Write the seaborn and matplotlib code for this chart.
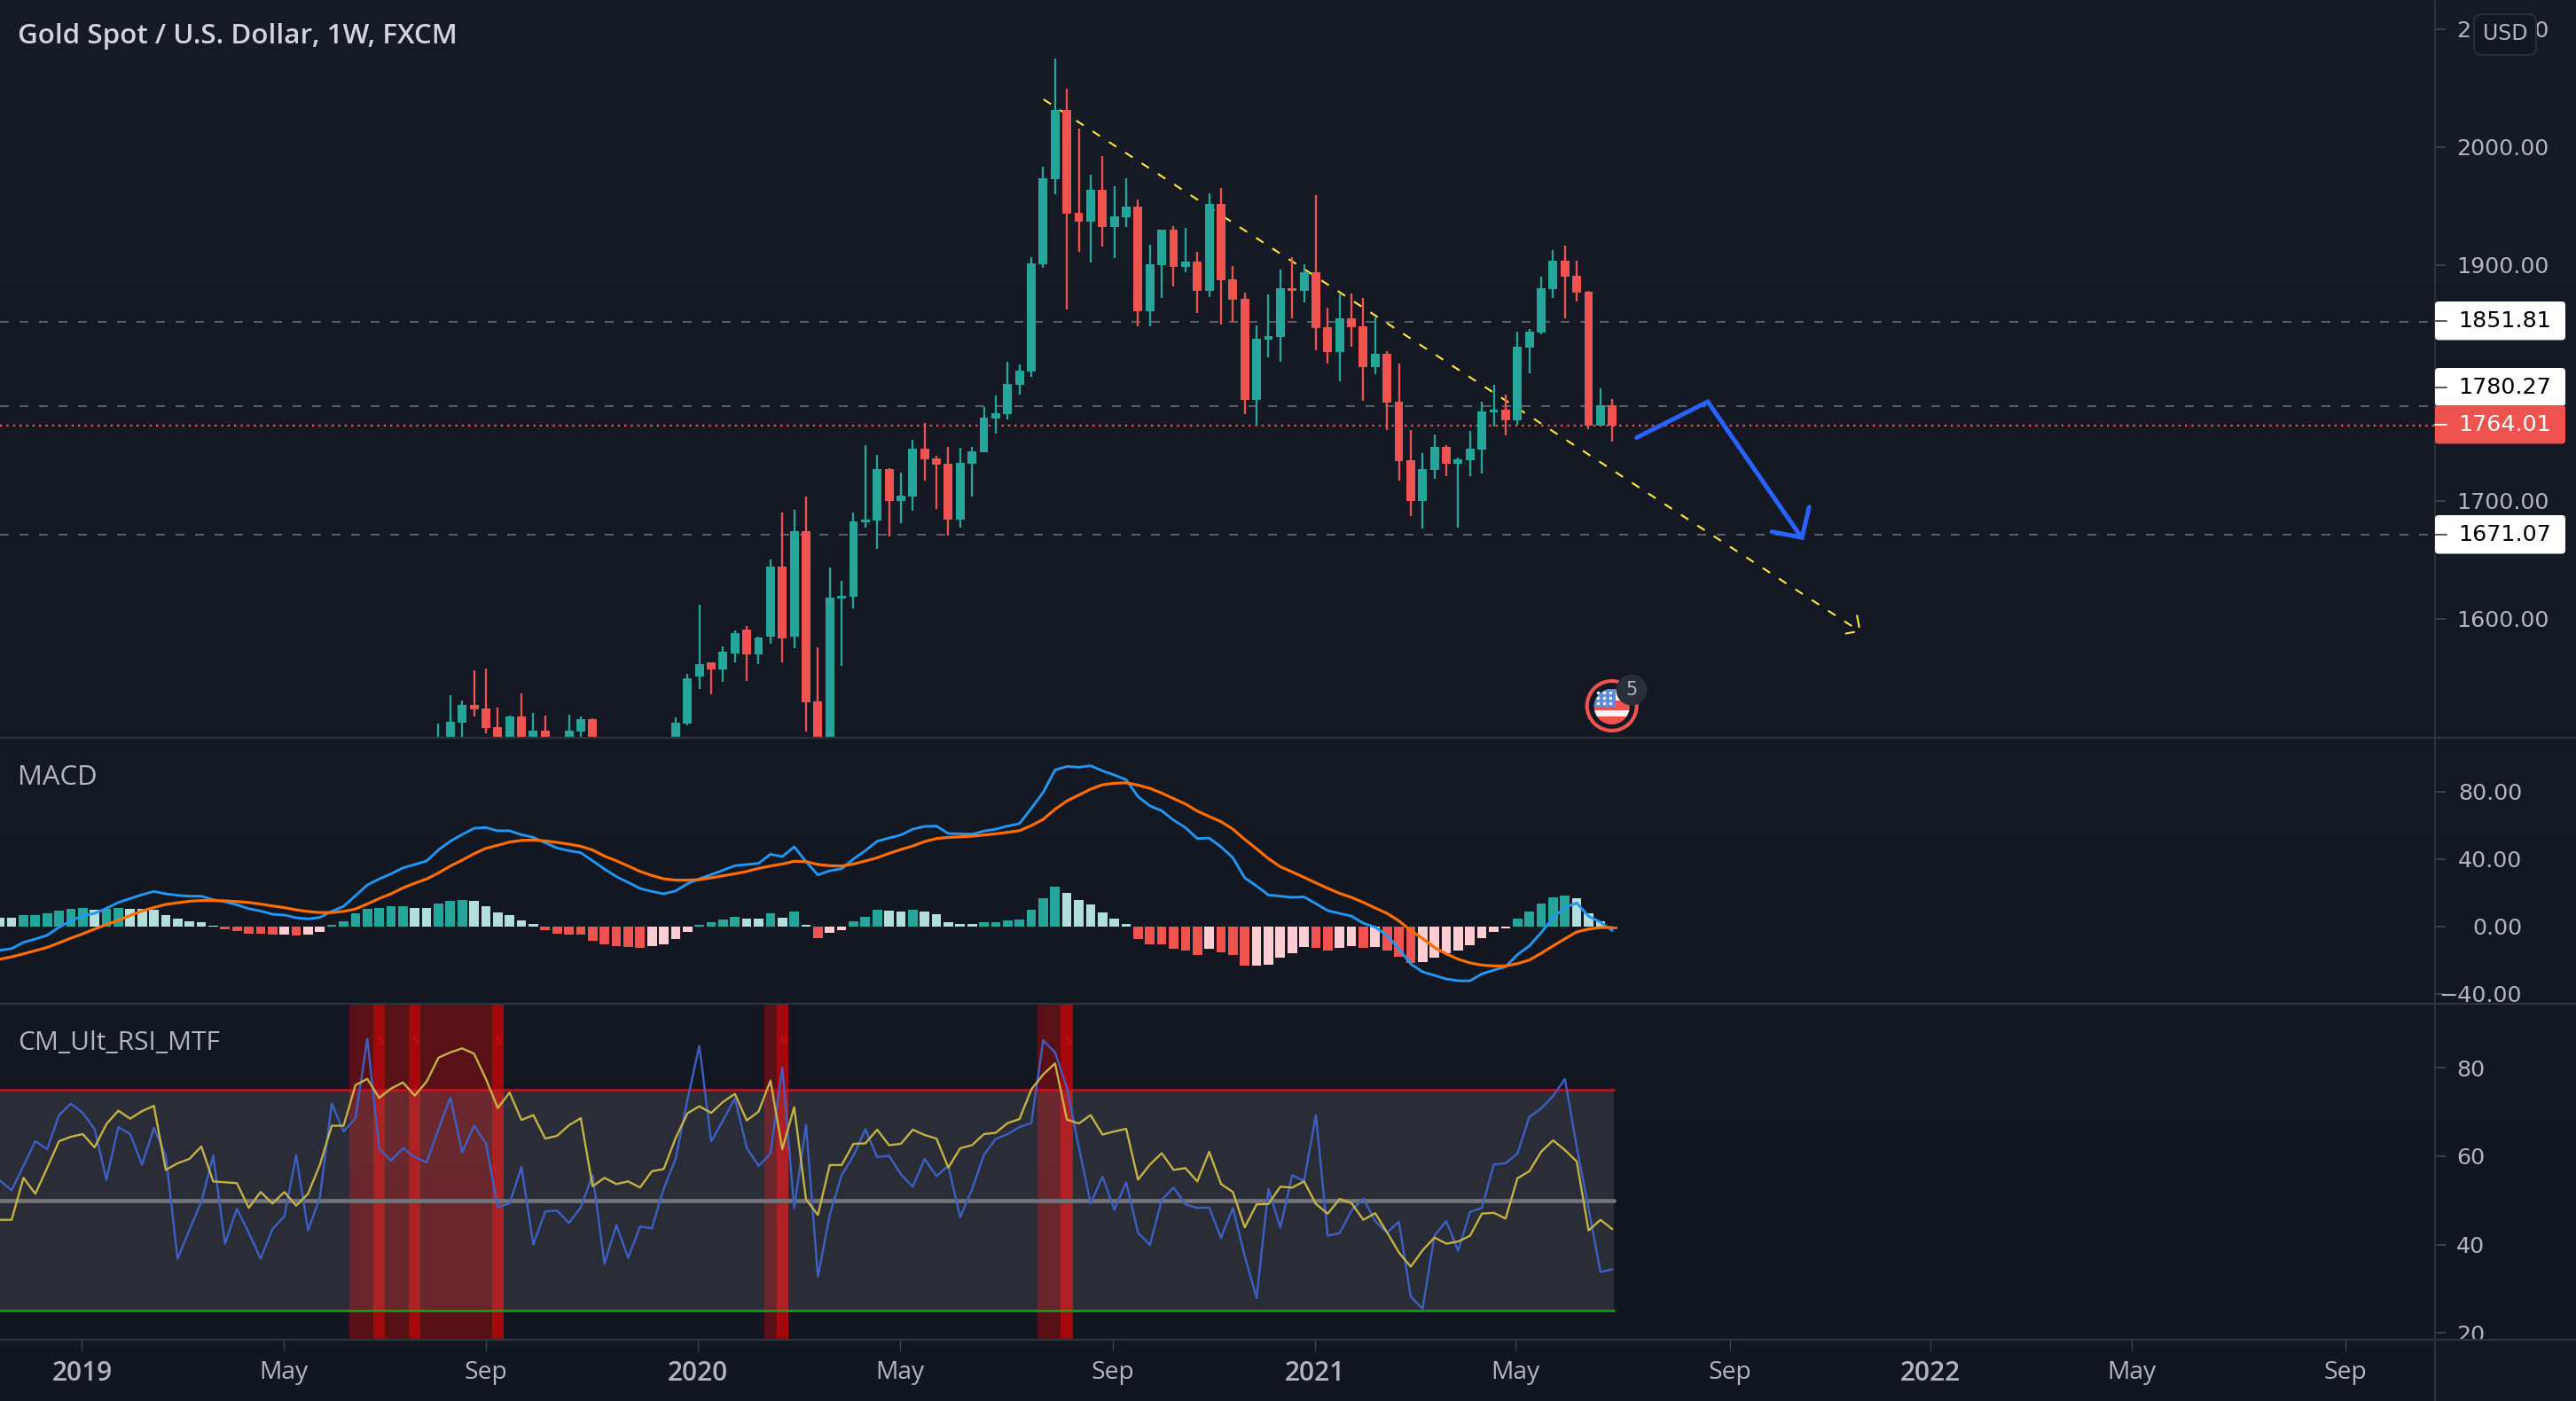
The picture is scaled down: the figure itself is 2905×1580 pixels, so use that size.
import numpy as np
import matplotlib
matplotlib.use("Agg")
import matplotlib.pyplot as plt
from matplotlib.patches import FancyBboxPatch, Circle, Rectangle
import seaborn as sns

# ---------- data ----------
candle_first = 37
opens = [1485,1495,1511.7,1526.7,1523.7,1507.9,1495,1516.9,1495,1504.9,1480,1495,1504.2,1514.7,
 1495,1478,1462,1476,1480,1488,1495,1510.9,1550.8,1562.8,1556.8,1570.4,1590.7,1569.6,1584.6,1644.1,
 1584.6,1674.1,1529.7,1490,1617,1618.5,1681.7,1683.2,1726.8,1699.7,1703.5,1744.1,1735.8,1731.3,1683.9,
 1731.3,1741.1,1769.7,1773.5,1798.3,1809.6,1900.6,1972.8,2031.4,1944.2,1936.7,1963.8,1932.2,1940.4,1949.5,
 1860.7,1899.8,1929.9,1898.3,1902.8,1878,1951.7,1887.8,1871.2,1785.5,1836.7,1838.9,1880.3,1878,1893.8,
 1847.2,1826.1,1854.7,1848,1813.4,1824.6,1784,1734.4,1699.8,1726.1,1745.7,1731.4,1734.4,1743.4,1775,
 1777.2,1768.2,1829.9,1842.7,1879.5,1903.6,1890.8,1877.3,1763.7,1781]
highs = [1510.9,1535.5,1530.5,1556,1557.6,1524.5,1517.7,1536.5,1520,1517.7,1492,1518.5,1516.9,1515.4,
 1498,1488,1480,1490,1492,1498,1516.2,1553.6,1611.7,1562.8,1576.4,1589.9,1593.7,1584.6,1650.1,1689.9,
 1692.2,1703.5,1575.6,1643.3,1632,1689.9,1747.1,1738.8,1727.5,1723.8,1751.6,1765.9,1738,1745.6,1744.8,
 1745.6,1779.5,1789.3,1817.8,1815.6,1906.6,1983.3,2075.1,2049.5,2015.6,1976.5,1992.3,1966.8,1973.5,1955.5,
 1917.1,1929.9,1932.9,1931.4,1911.1,1960.7,1965.3,1899.1,1876.5,1848.7,1875,1896,1906.6,1900.6,1959.3,
 1863.7,1875,1875.8,1872,1855.5,1826.9,1816.4,1760,1740.4,1756.2,1747.2,1736.6,1759.2,1784,1798.3,
 1790,1843.4,1845.7,1890,1912.6,1916.4,1903.6,1878,1795.3,1786.3]
lows = [1475,1488,1498,1517,1502.7,1490,1490,1490,1488,1490,1475,1488,1495,1490,
 1470,1465,1455,1470,1472,1478,1490,1509.4,1540.3,1535.8,1546.3,1562.8,1547,1561.3,1578.6,1562.8,
 1574.9,1504.2,1480,1485,1559.8,1608.7,1677.2,1659.1,1669.6,1680.9,1691.4,1717,1692.9,1670.4,1677.2,
 1703.5,1741,1756.9,1768.9,1790,1805.1,1897.6,1960,1862.2,1911.1,1902.1,1915.6,1905.8,1932.2,1847.9,
 1847.9,1872,1881.8,1893.8,1859.2,1872.7,1849.4,1851.7,1773.5,1764.5,1821.6,1817.9,1854.7,1868.3,1827.6,
 1816.4,1801.3,1830.6,1784.8,1807.3,1760,1717.1,1687,1676.5,1718.6,1720.8,1677.2,1720.8,1723.1,1763,
 1755.4,1764.5,1808.1,1841.2,1872,1854.7,1869,1760.7,1763.7,1750.2]
closes = [1495,1512.4,1526.7,1523,1507.2,1495,1516.9,1497,1504.9,1495,1488,1504.9,1514.7,1495,
 1478,1468,1476,1480,1488,1495,1511.7,1549.3,1561.3,1556.8,1571.9,1587.6,1569.6,1583.9,1644.1,1583.1,
 1674.1,1529,1490,1617.7,1619.2,1682.4,1683.9,1726.8,1699.7,1704.2,1744.1,1735.1,1730.5,1683.9,1732,
 1741.8,1770.5,1774.2,1799,1810.3,1901.3,1973.5,2031.4,1943.4,1936.7,1963.8,1932.2,1941.2,1949.5,1860.7,
 1900.6,1929.9,1898.3,1902.8,1878,1951.7,1887,1870.5,1785.5,1837.4,1839.7,1880.3,1878,1893.8,1846.4,
 1826.1,1854.7,1847.2,1813.4,1824.6,1783.3,1733.6,1699.8,1726.9,1745.7,1731.4,1735.1,1744.2,1775.7,1777.2,
 1768.2,1830.6,1843.4,1880.3,1903.6,1890,1876.5,1763.7,1781,1763.7]

macd_hist = [5.1,5.1,6.7,6.7,7.7,9.3,10.4,10.9,9.8,10.4,10.9,10.4,10.4,9.8,6.7,4.6,3.0,2.5,0.5,
 -1.6,-2.8,-4.4,-4.4,-4.9,-4.9,-5.4,-4.9,-3.3,0.9,3.0,7.7,10.4,10.9,11.9,11.9,10.9,10.9,13.5,15.1,15.6,15.1,
 11.9,8.2,6.7,3.5,1.4,-2.3,-4.4,-4.9,-4.9,-8.6,-10.7,-11.8,-12.3,-12.8,-11.8,-10.7,-7.5,-3.3,0.9,2.5,4.0,5.6,
 4.6,4.6,7.7,5.1,8.8,0.9,-7.0,-3.9,-2.3,3.0,5.6,9.8,9.3,8.8,9.8,8.8,7.2,2.5,1.4,1.4,2.5,2.5,3.5,4.0,9.8,16.7,
 23.5,19.8,15.6,13.0,8.2,4.6,1.4,-7.5,-10.7,-10.7,-13.3,-14.4,-17.0,-13.3,-15.4,-17.0,-23.3,-23.3,-22.8,-18.6,
 -16.0,-12.3,-12.8,-14.4,-12.8,-11.8,-12.8,-12.3,-14.4,-18.1,-21.8,-21.2,-18.6,-16.0,-14.4,-11.2,-7.0,-3.3,-1.2,
 4.6,8.8,13.5,17.2,18.2,16.7,7.7,3.0,-1.6]
hist_codes = list("gg"+"GGGGGG"+"g"+"GG"+"g"*8+"R"*5+"r"+"R"+"rr"+"G"*7+"gg"+"GGG"+"g"*6+"R"*9+"rrrr"+"GGGG"+"gg"+"G"+"g"+"G"+"g"+"R"+"rr"+"GGG"+"gg"+"G"+"g"*5+"G"*7+"g"*6+"R"*6+"r"+"RRR"+"r"*5+"RR"+"rr"+"R"+"r"+"RRR"+"r"*8+"G"*5+"ggg"+"R")
macd_line = [-14.2,-13.2,-9.5,-7.5,-5.3,-0.5,3.3,6.3,7.7,10.7,14.2,16.5,18.8,20.7,19.3,18.4,17.9,17.9,15.8,14.6,
 12.8,10.5,9.1,7.2,6.7,5.1,4.4,5.3,8.9,11.9,18.2,24.6,28.1,31.2,34.7,36.7,38.8,45.4,50.5,54.5,58.2,58.6,56.7,56.7,
 54.4,52.8,49.6,46.5,44.9,43.7,38.9,34,29.5,26.1,22.5,20.7,19.3,21,25.3,28.2,30.7,33.3,36,36.7,37.4,42.8,41.4,47.2,
 38.4,30.5,33,34.2,40,44.9,50.5,52.4,54.2,57.7,59.3,59.5,55.1,54.9,54.7,56.5,57.7,59.5,61,70,79.5,92.8,94.9,94.4,95.3,
 92.3,89.8,87,77,71.5,68.6,63,58.6,52.1,52.4,47.2,40.7,28.8,23.9,18.6,17.9,17.2,17.5,13.5,9.3,7.7,6.1,1.9,-0.5,-5.4,
 -13.3,-22.3,-27,-29.1,-31.2,-32.3,-32.3,-28.2,-26,-23.9,-16.8,-11.6,-3.7,5.1,11.2,13.9,6,2.5,-2.5]
signal_line = [-19.5,-18.1,-16.3,-14.4,-12.5,-9.8,-7,-4.4,-1.6,1.1,3.5,6.5,9.1,11.2,13,14,14.9,15.3,15.3,15.1,14.7,
 14.2,13.2,12.1,11.1,9.8,8.8,8.2,8.2,8.9,10.3,13.3,16.5,19.3,22.8,25.6,28.1,31.7,35.8,39.3,43.1,46.3,48.1,50,51,51.2,
 50.7,49.8,48.8,47.5,45.3,41.7,38.9,35.8,32.6,30.2,28.2,27.4,27.4,27.7,28.8,30,31.2,32.6,34.4,35.8,37,38.6,38.4,36.7,
 36,35.8,37,38.8,40.7,43.3,45.6,47.7,50.3,52.1,52.8,53.1,53.5,54.2,54.9,55.8,56.8,59.8,63.5,69.5,74.4,77.9,81.4,84,84.9,
 85.2,83.8,81.9,79.1,75.8,72.6,68.4,65.2,62.1,57.7,51.6,46,40.2,35.4,32.3,29.1,25.8,22.6,19.6,17.2,14.2,10.9,7.7,3.3,
 -2.5,-7.2,-12.5,-16.3,-19.5,-21.7,-23,-23.5,-23.5,-22.1,-20,-16,-11.6,-7.4,-3.3,-1.6,-0.7,-0.7]

rsi_fast = [54.5,52.3,57.8,63.4,61.6,69.3,71.9,69.8,66.1,54.7,66.6,65,58.1,66.4,60.1,36.8,43.4,49.7,60.1,40.2,48.1,
 42.7,36.8,43.5,46.4,60.2,43.2,50.7,71.9,65.6,68.6,86.6,61.8,59,61.8,59.8,58.6,66.1,73.3,60.9,66.9,62.9,48.5,49.3,57.6,
 40,47.5,47.7,44.9,48.4,55.7,35.7,44.4,37,44.1,43.7,52.7,59.4,72.8,85,63.3,68.1,73.1,61.9,57.8,60.6,80.1,48.3,67.1,32.7,
 46.7,55.7,60.1,66.1,59.8,60.1,55.9,53.1,59.4,55.5,57.8,46.2,52.5,60.3,63.9,65,66.6,67.5,86.2,83.5,75.5,62.1,49.3,55.4,
 47.9,54.1,42.7,39.9,50.1,52.9,49.1,48.3,48.4,41.5,48.3,37.4,27.9,52.6,43.8,55.7,54.4,69.3,42,42.6,47.7,50.4,45.3,42.7,
 45.2,28.2,25.5,42,45.3,38.6,47.4,48.3,58.1,58.4,60.6,68.9,70.8,73.6,77.5,62.1,48.1,33.8,34.4]
rsi_slow = [45.6,45.6,55.1,51.5,57.4,63.4,64.4,65,62,67.3,70.3,68.5,70.2,71.4,56.9,58.4,59.4,62.2,54.3,54.1,53.9,48.3,
 51.9,49.3,51.9,48.8,51.5,58.1,66.9,66.9,76.1,77.5,73.2,75.3,76.7,73.7,76.9,82.3,83.5,84.4,83.2,77.5,70.9,74.4,68.2,69.3,
 64,64.6,67,68.6,53.2,55.1,53.7,54.3,52.9,56.6,57.1,64.1,69.7,71.3,69.8,72.3,74.1,68.1,70.1,77.1,61.6,71.1,50.2,46.7,58,
 58,62.8,62.9,66,62.5,62.8,66,64.8,64,57.4,61.8,62.5,65,65.3,67.5,68.4,75.1,78.5,81,68.3,67.4,69.3,64.9,65.6,66.2,54.7,
 58.1,60.7,56.9,57.3,54.3,61,53.7,51.9,43.9,49.1,49.2,53.1,52.9,54.3,49.2,47,50.3,49.4,45.6,47.1,42.8,38.2,35,38.7,41.6,
 40.2,40.7,42,47,47.2,45.9,55,56.6,61,63.6,61.4,58.8,43.2,45.6,43.5]
overbought_bars = [30,31,33,34,36,37,38,39,40,41,65,88,89]
sell_bars = [32,35,42,66,90]

price_ticks = [2100,2000,1900,1700,1600]
price_tick_labels = ["2100.00","2000.00","1900.00","1700.00","1600.00"]
macd_ticks = [80,40,0,-40]
macd_tick_labels = ["80.00","40.00","0.00","\u221240.00"]
rsi_ticks = [80,60,40,20]
rsi_tick_labels = ["80","60","40","20"]
time_ticks = [6.93,23.93,40.99,58.9,75.9,93.9,110.9,127.8,145.9,162.8,179.8,197.8]
time_labels = ["2019","May","Sep","2020","May","Sep","2021","May","Sep","2022","May","Sep"]
level_prices = [1851.81,1780.27,1671.07]
last_price = 1764.01
trend_x = [88.03,156.8]
trend_y = [2040.5,1589.9]
head_a_x, head_a_y = [156.64,156.82], [1602.7,1593.0]
head_b_x, head_b_y = [155.7,156.4], [1587.5,1588.8]
plan_x = [138.05,144.05,151.96]
plan_y = [1753.6,1784.1,1668.9]
plan_head_x = [152.6,152.0,149.46]
plan_head_y = [1694.8,1668.9,1673.8]

# ---------- style ----------
W, H = 2905, 1580
BG = "#131722"
GRID = "#2F333E"
TXT = "#B2B5BE"
UP, DOWN, UP2, DOWN2 = "#26A69A", "#EF5350", "#B2DFDB", "#FFCDD2"
sns.set_theme(style="dark", rc={"axes.facecolor": "none", "figure.facecolor": BG})
plt.rcParams["font.family"] = ["Open Sans", "DejaVu Sans"]
AX_FONT = ["DejaVu Sans"]

fig = plt.figure(figsize=(W/100, H/100), dpi=100)
AXR = 2746
PX = 13.37

bg = fig.add_axes([0, 0, 1, 1], zorder=-5)
bg.imshow(np.linspace(0, 1, 256).reshape(-1, 1), aspect="auto",
          cmap=matplotlib.colors.LinearSegmentedColormap.from_list("b", ["#171B26", "#121620"]))
bg.axis("off")

def pane(top, bottom, ylim):
    ax = fig.add_axes([0, 1-bottom/H, AXR/W, (bottom-top)/H], zorder=1)
    ax.set_xlim(0.02, AXR/PX)
    ax.set_ylim(*ylim)
    for s in ax.spines.values():
        s.set_visible(False)
    ax.set_xticks([])
    ax.yaxis.tick_right()
    return ax

def yaxis_labels(ax, ticks, labels, ha="left", right_px=None):
    ax.set_yticks(ticks)
    ax.set_yticklabels(labels, family=AX_FONT, fontsize=18.3, color=TXT, ha=ha)
    pad = 8.64 if right_px is None else (right_px-AXR)*0.72-8.64
    ax.tick_params(axis="y", length=8.64, width=1.4, color="#3C404B", pad=pad, right=True, left=False)

# ---------- price pane ----------
axp = pane(0, 831, (1499.9, 2124.7))
cx = np.arange(candle_first, candle_first+len(opens))
o, h, l, c = map(np.array, (opens, highs, lows, closes))
cols = np.where(c >= o, UP, DOWN)
for lv in level_prices:
    axp.axhline(lv, color="#5A5D66", lw=1.5, ls=(0, (4.8, 5.76)), zorder=1)
axp.axhline(last_price, color=DOWN, lw=1.6, ls=(0, (1.1, 2.2)), zorder=1)
sns.lineplot(x=trend_x, y=trend_y, ax=axp, color="#FFEB3B", lw=1.5, ls=(0, (4.8, 5.76)), zorder=2, errorbar=None, estimator=None)
for xs, ys in ((head_a_x, head_a_y), (head_b_x, head_b_y)):
    axp.plot(xs, ys, color="#FFEB3B", lw=1.5, zorder=2)
axp.vlines(cx, l, h, colors=cols, lw=1.65, zorder=3)
axp.bar(cx, np.abs(c-o), bottom=np.minimum(o, c), width=0.74, color=cols, linewidth=0, zorder=4)
axp.plot(plan_x, plan_y, color="#2962FF", lw=3.6, solid_joinstyle="miter", zorder=5)
axp.plot(plan_head_x, plan_head_y, color="#2962FF", lw=3.6, solid_joinstyle="miter", zorder=5)
yaxis_labels(axp, price_ticks, price_tick_labels)

# ---------- MACD pane ----------
axm = pane(833, 1131, (-45.4, 111.4))
idx = np.arange(len(macd_hist))
sns.barplot(x=idx, y=macd_hist, hue=hist_codes, palette={"G": UP, "g": UP2, "R": DOWN, "r": DOWN2},
            native_scale=True, dodge=False, width=0.8, saturation=1, linewidth=0, legend=False, ax=axm, zorder=2)
sns.lineplot(x=idx, y=macd_line, ax=axm, color="#2196F3", lw=2.1, zorder=3, errorbar=None, estimator=None)
sns.lineplot(x=idx, y=signal_line, ax=axm, color="#FF6D00", lw=2.3, zorder=4, errorbar=None, estimator=None)
axm.set_xlim(0.02, AXR/PX); axm.set_ylim(-45.4, 111.4)
axm.set_xticks([]); axm.set_xlabel(""); axm.set_ylabel("")
yaxis_labels(axm, macd_ticks, macd_tick_labels, ha="right", right_px=2844)

# ---------- RSI pane ----------
axr = pane(1133, 1510, (18.65, 94.3))
def runs(bars):
    out = []
    for b in sorted(bars):
        if not out or b != out[-1][1]+1:
            out.append([b, b])
        else:
            out[-1][1] = b
    return out
for a, b in runs(overbought_bars):
    axr.axvspan(a-0.5, b+0.5, color="#FF0000", alpha=0.30, lw=0, zorder=1)
for a, b in runs(sell_bars):
    axr.axvspan(a-0.5, b+0.5, color="#FF0000", alpha=0.62, lw=0, zorder=1)
    axr.text(a+0.05, 86, "S", color="#D0101A", fontsize=10, ha="center", va="center", zorder=2)
end = idx[-1]+0.1
axr.fill_between([-1, end], 25, 75, color="white", alpha=0.10, lw=0, zorder=2)
axr.plot([-1, end], [75, 75], color="#C8141C", lw=1.8, zorder=3)
axr.plot([-1, end], [25, 25], color="#12A51C", lw=1.8, zorder=3)
axr.plot([-1, end], [50, 50], color="#73747C", lw=3.4, zorder=3)
sns.lineplot(x=idx, y=rsi_fast, ax=axr, color="#3C60C4", lw=1.7, zorder=4, errorbar=None, estimator=None)
sns.lineplot(x=idx, y=rsi_slow, ax=axr, color="#C4B245", lw=1.7, zorder=5, errorbar=None, estimator=None)
axr.set_xlim(0.02, AXR/PX); axr.set_ylim(18.65, 94.3)
yaxis_labels(axr, rsi_ticks, rsi_tick_labels)
axr.set_xticks(time_ticks)
axr.set_xticklabels(time_labels, fontsize=20.3, color=TXT)
axr.tick_params(axis="x", length=9.4, width=1.0, color="#3C404B", pad=8, bottom=True, top=False)
for t in axr.get_xticklabels():
    if t.get_text().isdigit():
        t.set_fontweight("semibold")
        t.set_fontsize(21.5)

# ---------- chrome overlay ----------
ov = fig.add_axes([0, 0, 1, 1], zorder=10)
ov.set_xlim(0, W); ov.set_ylim(H, 0); ov.axis("off"); ov.patch.set_alpha(0)
ov.add_patch(Rectangle((AXR+1, 1511), W-AXR, 70, color=BG, lw=0, zorder=1))
for y in (832, 1132, 1511):
    ov.plot([0, W], [y, y], color=GRID, lw=1.6, zorder=2, solid_capstyle="butt")
ov.plot([AXR, AXR], [0, H], color=GRID, lw=1.4, zorder=2, solid_capstyle="butt")

ov.text(20, 41, "Gold Spot / U.S. Dollar, 1W, FXCM", color="#D1D4DC", fontsize=22.6, fontweight="semibold", va="center", ha="left")
ov.text(20, 877, "MACD", color=TXT, fontsize=22.4, va="center", ha="left")
ov.text(20, 1177, "CM_Ult_RSI_MTF", color=TXT, fontsize=21.6, va="center", ha="left")

def price_box(top, bottom, text, face, ink, tick):
    ov.add_patch(FancyBboxPatch((AXR, top), 2893-AXR, bottom-top, boxstyle="round,pad=0,rounding_size=4",
                                fc=face, ec="none", zorder=3))
    ov.plot([AXR, AXR+13], [(top+bottom)/2]*2, color=tick, lw=1.4, zorder=4)
    ov.text(2772, (top+bottom)/2, text, family=AX_FONT, fontsize=18.3, color=ink, ha="left", va="center", zorder=4)
price_box(340, 383.5, f"{level_prices[0]:.2f}", "white", "black", "#555860")
price_box(415, 458, f"{level_prices[1]:.2f}", "white", "black", "#555860")
price_box(581, 624.5, f"{level_prices[2]:.2f}", "white", "black", "#555860")
price_box(457, 500.5, f"{last_price:.2f}", DOWN, "white", "#F5F5F5")

ov.add_patch(FancyBboxPatch((2790, 16), 70, 46, boxstyle="round,pad=0,rounding_size=9", fc=BG, ec="#2A2E39", lw=1.5, zorder=5))
ov.text(2825, 38, "USD", family=AX_FONT, fontsize=17, color=TXT, ha="center", va="center", zorder=6)

# event flag
clip = Circle((1817.7, 797), 20, transform=ov.transData)
for (x0, y0, w, hh, colr) in [(1797, 776, 41, 14, "#F4F4F4"), (1797, 790, 41, 11, DOWN), (1797, 801, 41, 7, "#F4F4F4"),
                              (1797, 808, 41, 10, DOWN), (1797, 776, 25, 21, "#5C8FD8")]:
    r = Rectangle((x0, y0), w, hh, color=colr, lw=0, zorder=5)
    ov.add_patch(r); r.set_clip_path(clip)
ov.scatter([1802, 1809, 1816, 1802, 1809, 1816, 1802, 1809, 1816], [781, 781, 781, 787, 787, 787, 793, 793, 793],
           s=6, color="white", lw=0, zorder=6)
ov.add_patch(Circle((1817.7, 796), 28, fc="none", ec=DOWN, lw=3.0, zorder=6))
ov.add_patch(Circle((1840, 778), 17.5, fc="#2A2E39", ec="none", zorder=7))
ov.text(1840, 778, "5", family=AX_FONT, fontsize=15, color=TXT, ha="center", va="center", zorder=8)

fig.savefig("out.png", dpi=100, facecolor=BG)
